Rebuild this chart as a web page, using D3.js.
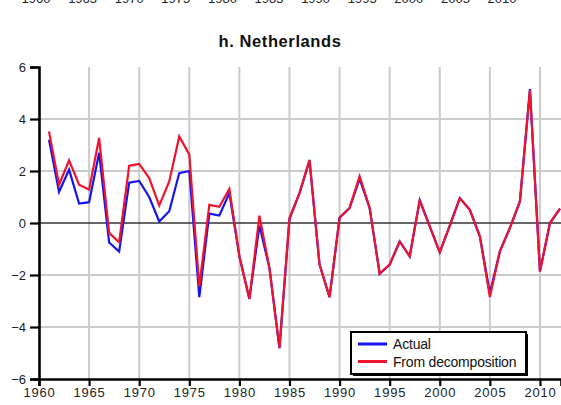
<!DOCTYPE html>
<html>
<head>
<meta charset="utf-8">
<script src="https://cdn.jsdelivr.net/npm/d3@7"></script>
<style>
  html, body { margin: 0; padding: 0; background: #fff; }
  svg { display: block; font-family: "Liberation Sans", Arial, sans-serif; }
</style>
</head>
<body>
<svg id="chart" width="561" height="405"></svg>
<script>
// Annual values, Netherlands
const years = d3.range(1961, 2013);
const actual = [
  3.20, 1.20, 2.05, 0.75, 0.80, 2.70, -0.75, -1.10, 1.55, 1.62,
  1.00, 0.06, 0.45, 1.92, 2.00, -2.85, 0.36, 0.29, 1.15, -1.28,
  -2.92, -0.10, -1.73, -4.81, 0.15, 1.15, 2.40, -1.60, -2.85, 0.20,
  0.58, 1.70, 0.58, -1.95, -1.60, -0.71, -1.28, 0.87, -0.13, -1.13,
  -0.10, 0.96, 0.51, -0.51, -2.70, -1.09, -0.19, 0.83, 5.15, -1.86,
  0.00, 0.55
];
const decomposition = [
  3.52, 1.47, 2.41, 1.47, 1.28, 3.27, -0.38, -0.74, 2.20, 2.27,
  1.73, 0.67, 1.60, 3.33, 2.63, -2.44, 0.70, 0.62, 1.31, -1.28,
  -2.92, 0.28, -1.73, -4.81, 0.19, 1.15, 2.43, -1.60, -2.85, 0.20,
  0.58, 1.80, 0.58, -1.95, -1.60, -0.71, -1.28, 0.87, -0.13, -1.13,
  -0.10, 0.96, 0.51, -0.51, -2.85, -1.09, -0.19, 0.83, 5.10, -1.86,
  0.00, 0.55
];
const xTicks = d3.range(1960, 2011, 5);
const yTicks = [-6, -4, -2, 0, 2, 4, 6];
const seriesNames = ["Actual", "From decomposition"];
const seriesColors = ["#1414f0", "#ee1430"];
const title = "h. Netherlands";

const svg = d3.select("#chart");

const x = d3.scaleLinear().domain([1960, 2012.1]).range([39, 561]);
const y = d3.scaleLinear().domain([-6, 6]).range([379, 67]);

// Year labels of the panel above, only their lower edge shows
const xAbove = d3.scaleLinear().domain([1960, 2010]).range([36, 502]);
svg.append("g").selectAll("text").data(xTicks).join("text")
  .attr("x", d => xAbove(d)).attr("y", 3)
  .attr("text-anchor", "middle")
  .attr("font-size", 13).attr("fill", "#222")
  .text(d => d);

// Title
svg.append("text")
  .attr("x", 280).attr("y", 46.5)
  .attr("text-anchor", "middle")
  .attr("font-size", 16.5).attr("font-weight", "bold")
  .attr("letter-spacing", 0.6)
  .attr("fill", "#111")
  .text(title);

// Grid
const grid = svg.append("g");
grid.selectAll("line.v").data(xTicks.filter(d => d > 1960)).join("line")
  .attr("x1", d => x(d)).attr("x2", d => x(d))
  .attr("y1", y(6)).attr("y2", y(-6))
  .attr("stroke", "#cbcbcb").attr("stroke-width", 2);
grid.selectAll("line.h").data(yTicks.filter(d => d !== 0 && d !== -6 && d !== 6)).join("line")
  .attr("x1", x(1960)).attr("x2", 561)
  .attr("y1", d => y(d)).attr("y2", d => y(d))
  .attr("stroke", "#cbcbcb").attr("stroke-width", 2);
grid.append("line")
  .attr("x1", x(1960)).attr("x2", 561)
  .attr("y1", y(0)).attr("y2", y(0))
  .attr("stroke", "#333").attr("stroke-width", 1.3);

// Series lines, decomposition drawn on top
const line = d3.line().x((d, i) => x(years[i])).y(d => y(d));
[actual, decomposition].forEach((vals, k) => {
  svg.append("path")
    .datum(vals)
    .attr("d", line)
    .attr("fill", "none")
    .attr("stroke", seriesColors[k])
    .attr("stroke-width", 2.2)
    .attr("stroke-linejoin", "miter");
});

// Axes
const yAxis = svg.append("g")
  .attr("transform", `translate(${x(1960)},0)`)
  .call(d3.axisLeft(y).tickValues(yTicks).tickSize(9).tickPadding(4).tickFormat(d3.format("d")));
const xAxis = svg.append("g")
  .attr("transform", `translate(0,${y(-6)})`)
  .call(d3.axisBottom(x).tickValues(xTicks).tickSize(7).tickPadding(2).tickFormat(d3.format("d")));
[yAxis, xAxis].forEach(g => {
  g.select(".domain").attr("stroke", "#000").attr("stroke-width", 2.6);
  g.selectAll(".tick line").attr("stroke", "#000").attr("stroke-width", 2.2);
  g.selectAll(".tick text").attr("font-size", 13).attr("fill", "#222")
    .attr("font-family", "'Liberation Sans', Arial, sans-serif");
});
xAxis.selectAll(".tick text").attr("letter-spacing", 0.8);

// Legend
const lg = svg.append("g").attr("transform", "translate(351,332)");
lg.append("rect").attr("x", 2).attr("y", 2).attr("width", 175).attr("height", 42).attr("fill", "#000");
lg.append("rect").attr("width", 175).attr("height", 42)
  .attr("fill", "#fff").attr("stroke", "#000").attr("stroke-width", 2);
seriesNames.forEach((name, i) => {
  const cy = 12 + i * 17.5;
  lg.append("line").attr("x1", 7).attr("x2", 36).attr("y1", cy).attr("y2", cy)
    .attr("stroke", seriesColors[i]).attr("stroke-width", 3);
  lg.append("text").attr("x", 42).attr("y", cy + 5)
    .attr("font-size", 14).attr("fill", "#111")
    .attr("letter-spacing", -0.2)
    .text(name);
});
</script>
</body>
</html>
